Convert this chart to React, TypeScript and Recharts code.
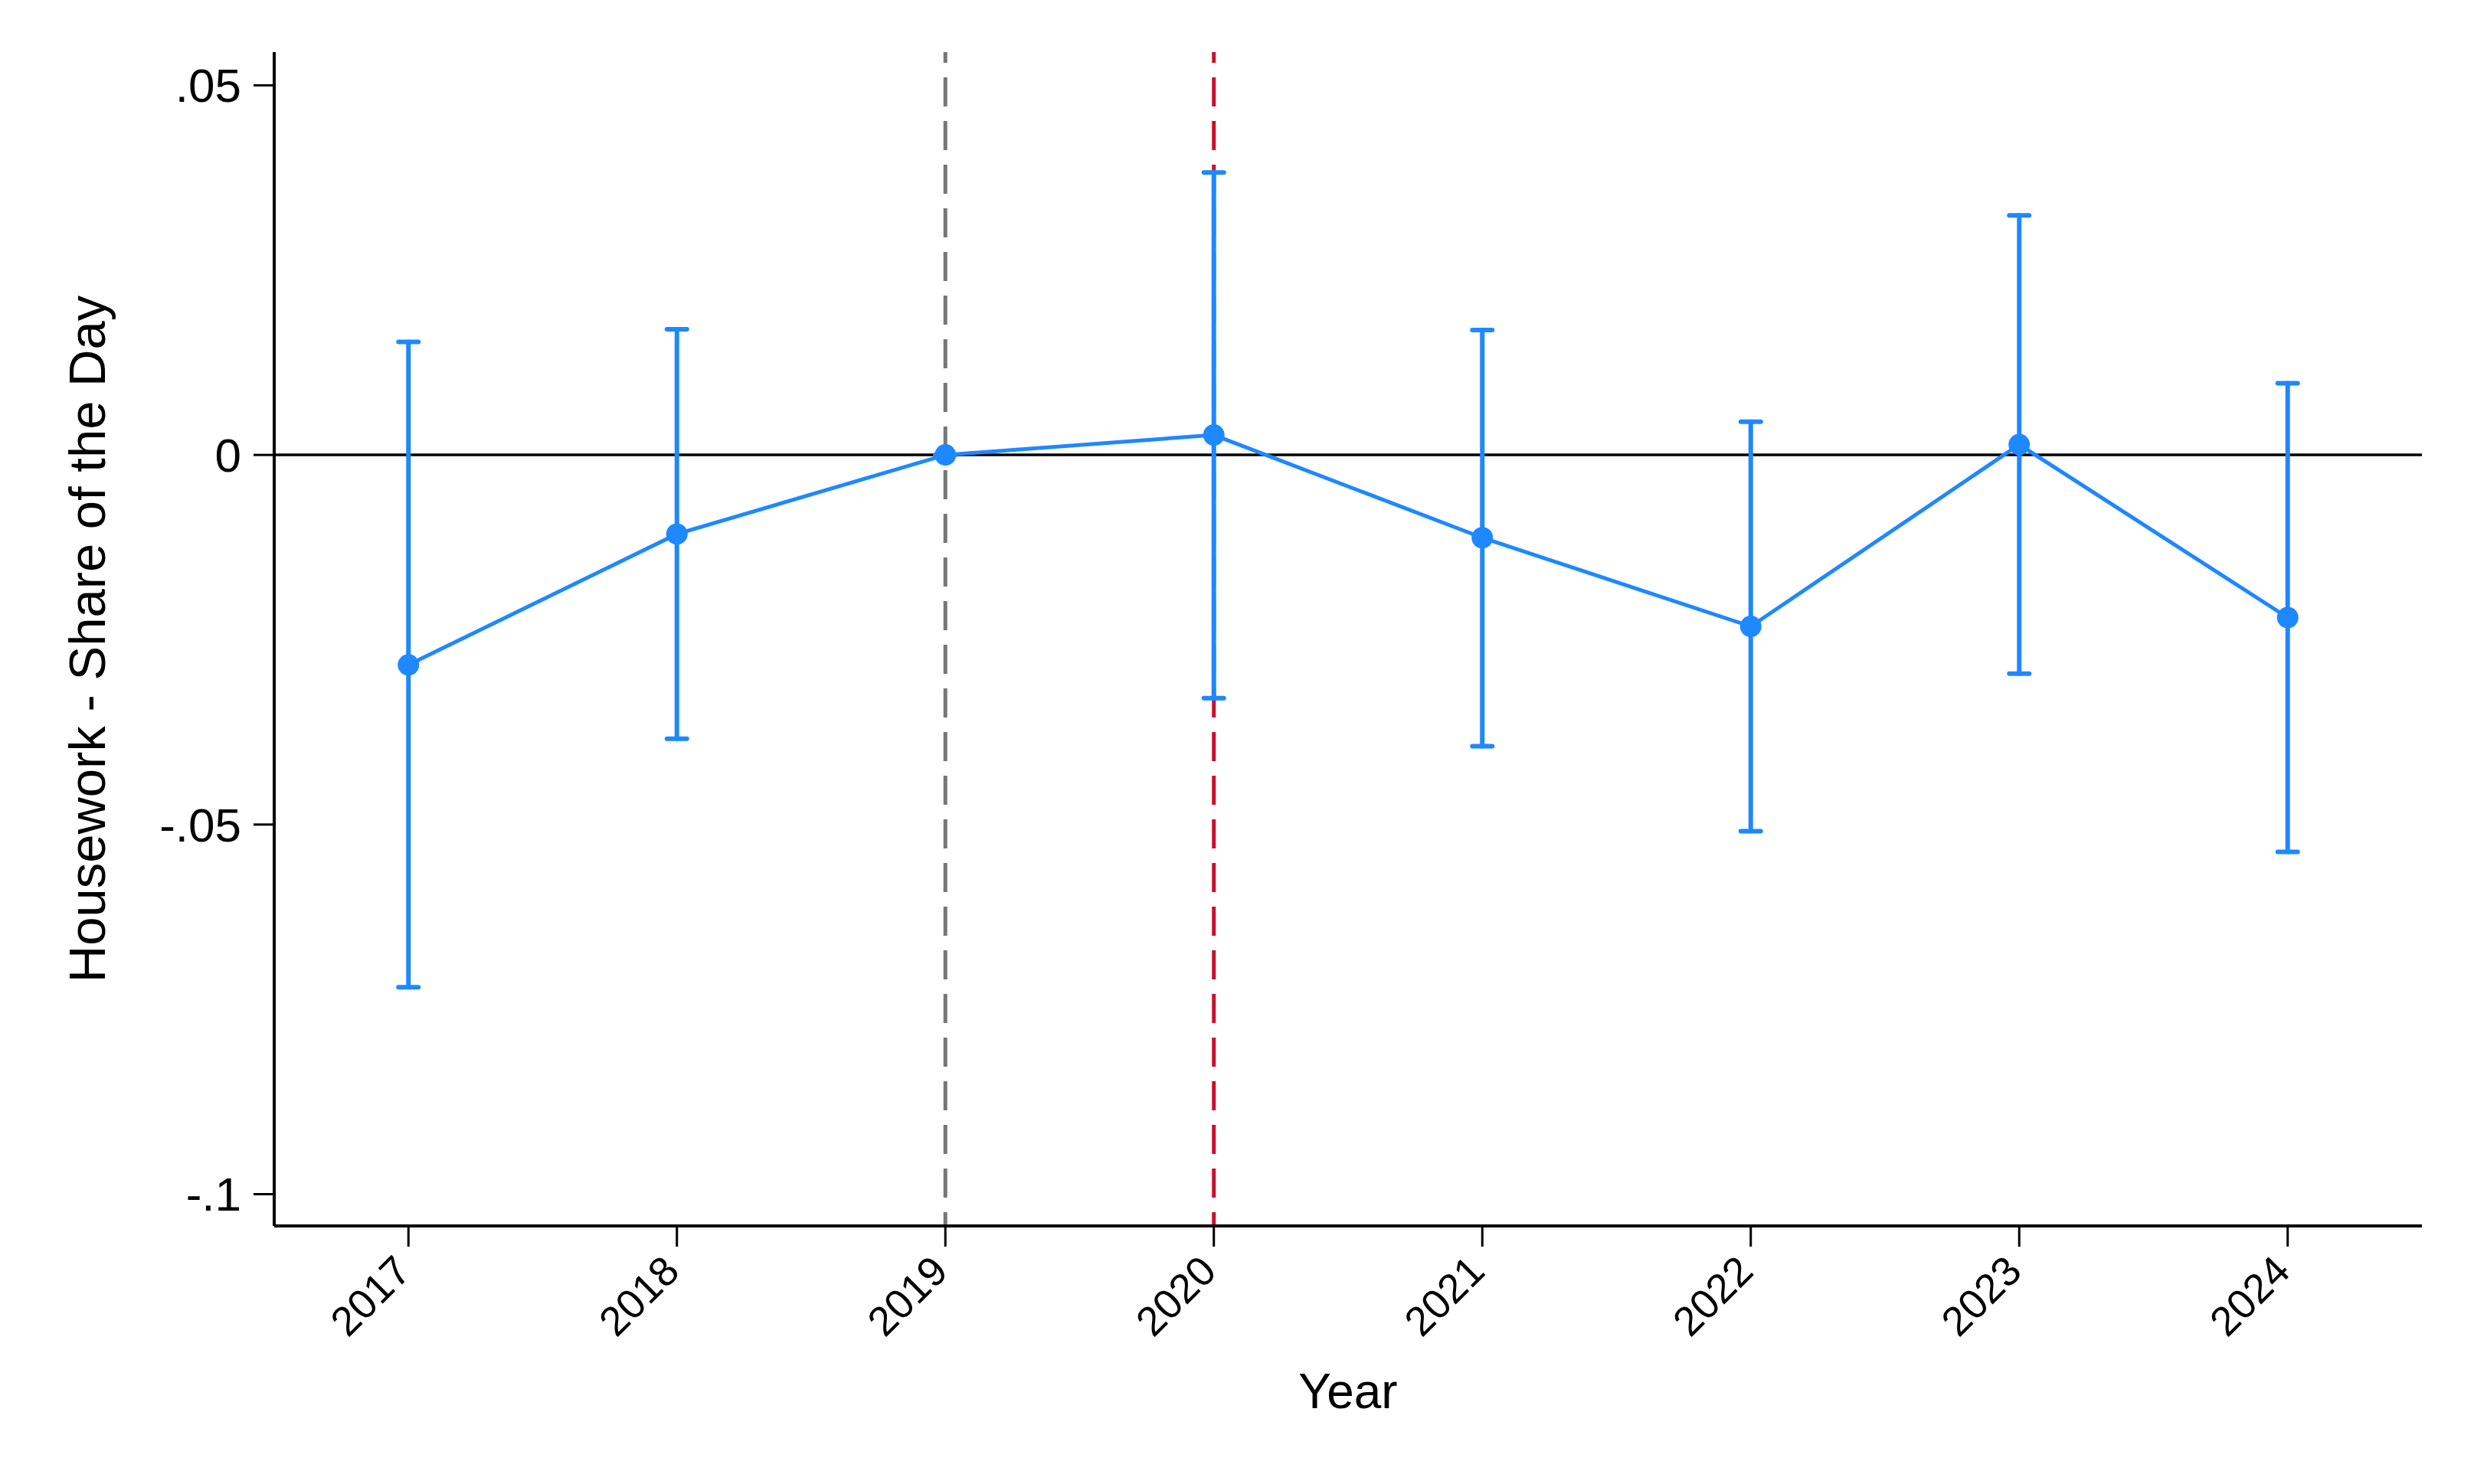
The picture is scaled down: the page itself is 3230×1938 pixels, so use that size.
import React from "react";
import {
  ComposedChart,
  Line,
  XAxis,
  YAxis,
  ErrorBar,
  ReferenceLine,
} from "recharts";

const years = [2017, 2018, 2019, 2020, 2021, 2022, 2023, 2024];
const coef = [-0.0284, -0.0107, 0, 0.0027, -0.0112, -0.0232, 0.0014, -0.022];
const ciLow = [-0.072, -0.0384, 0, -0.0329, -0.0394, -0.0509, -0.0296, -0.0537];
const ciHigh = [0.0153, 0.017, 0, 0.0382, 0.0169, 0.0045, 0.0324, 0.0097];
const yTicks = [-0.1, -0.05, 0, 0.05];

const BLUE = "#1E88FF";
const FONT = "'Liberation Sans', Arial, Helvetica, sans-serif";

const data = years.map((year, i) => ({
  year,
  coef: coef[i],
  err: [coef[i] - ciLow[i], ciHigh[i] - coef[i]],
}));

// stata style: ".05", "-.1"
function fmt(v: number): string {
  if (v === 0) return "0";
  const s = String(Math.round(v * 1000) / 1000);
  return s.replace("0.", ".");
}

function YearTick(props: any) {
  const { x, y, payload } = props;
  const ax = x + 6;
  const ay = y + 33;
  return (
    <text
      x={ax}
      y={ay}
      transform={`rotate(-45, ${ax}, ${ay})`}
      textAnchor="end"
      fontSize={54}
      fontFamily={FONT}
      fill="#000"
    >
      {payload.value}
    </text>
  );
}

function YTitle(props: any) {
  const vb = props.viewBox;
  const cy = vb.y + vb.height / 2;
  return (
    <text
      x={105}
      y={cy}
      transform={`rotate(-90, 105, ${cy})`}
      textAnchor="middle"
      dominantBaseline="central"
      fontSize={67}
      fontFamily={FONT}
      fill="#000"
    >
      Housework - Share of the Day
    </text>
  );
}

function XTitle(props: any) {
  const vb = props.viewBox;
  const cx = vb.x + vb.width / 2;
  return (
    <text
      x={cx}
      y={1831}
      textAnchor="middle"
      fontSize={64}
      fontFamily={FONT}
      fill="#000"
    >
      Year
    </text>
  );
}

export default function App() {
  return (
    <div style={{ width: 3214, height: 1922, background: "#fff" }}>
      <ComposedChart
        width={3214}
        height={1922}
        data={data}
        margin={{ top: 60, right: 60, bottom: 0, left: 0 }}
      >
        <XAxis
          dataKey="year"
          type="number"
          domain={[2016.5, 2024.5]}
          ticks={years}
          height={329}
          tickSize={27}
          tick={<YearTick />}
          axisLine={{ stroke: "#000", strokeWidth: 4 }}
          tickLine={{ stroke: "#000", strokeWidth: 3 }}
          label={<XTitle />}
        />
        <YAxis
          type="number"
          domain={[-0.1043, 0.0545]}
          allowDataOverflow
          ticks={yTicks}
          tickFormatter={fmt}
          width={350}
          tickSize={27}
          tickMargin={16}
          tick={{ fontSize: 62, fontFamily: FONT, fill: "#000" }}
          axisLine={{ stroke: "#000", strokeWidth: 4 }}
          tickLine={{ stroke: "#000", strokeWidth: 3 }}
          label={<YTitle />}
        />
        <ReferenceLine y={0} stroke="#000" strokeWidth={3.5} />
        <ReferenceLine
          x={2019}
          stroke="#767676"
          strokeWidth={5}
          strokeDasharray="38 19"
          strokeDashoffset={20}
        />
        <ReferenceLine
          x={2020}
          stroke="#C8102E"
          strokeWidth={5}
          strokeDasharray="38 19"
          strokeDashoffset={20}
        />
        <Line
          dataKey="coef"
          stroke={BLUE}
          strokeWidth={5}
          dot={{ r: 14, fill: BLUE, stroke: "none" }}
          isAnimationActive={false}
        >
          <ErrorBar
            dataKey="err"
            direction="y"
            width={13}
            stroke={BLUE}
            strokeWidth={6}
            strokeLinecap="round"
            isAnimationActive={false}
          />
        </Line>
      </ComposedChart>
    </div>
  );
}
